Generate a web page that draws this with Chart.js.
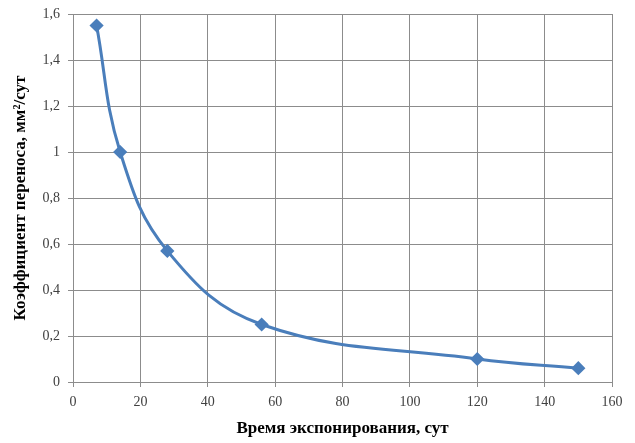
<html>
<head>
<meta charset="utf-8"/>
<title>Коэффициент переноса</title>
<script src="https://cdn.jsdelivr.net/npm/chart.js@4/dist/chart.umd.min.js"></script>
<style>
  body { margin: 0; background: #fff; }
  #wrap { width: 635px; height: 443px; }
</style>
</head>
<body>
<div id="wrap"><canvas id="myChart" width="635" height="443"></canvas></div>
<script>
// data
var days = [7, 14, 28, 56, 120, 150];
var coef = [1.55, 1.0, 0.57, 0.25, 0.10, 0.06];
var xTitle = 'Время экспонирования, сут';
var yTitle = 'Коэффициент переноса, мм²/сут';

var pts = [];
for (var i = 0; i < days.length; i++) {
    pts.push({x: days[i], y: coef[i]});
}

var serif = '"Liberation Serif", "Times New Roman", serif';
var ctx = document.getElementById('myChart');
var myChart = new Chart(ctx, {
    type: 'scatter',
    data: {
        datasets: [{
            data: pts,
            showLine: true,
            borderColor: '#4a7ebb',
            backgroundColor: '#4a7ebb',
            borderWidth: 3,
            tension: 0.4,
            pointStyle: 'rectRot',
            pointRadius: 5,
            pointHoverRadius: 5
        }]
    },
    options: {
        responsive: false,
        animation: false,
        layout: { padding: { top: 14, right: 23, left: 0, bottom: 0 } },
        plugins: { legend: { display: false }, tooltip: { enabled: false } },
        scales: {
            x: {
                type: 'linear',
                min: 0, max: 160,
                ticks: { stepSize: 20, color: '#404040', font: { family: serif, size: 14 }, padding: 7 },
                grid: { color: '#8c8c8c', tickLength: 5 },
                border: { color: '#8c8c8c' },
                title: { display: true, text: xTitle, color: '#000', font: { family: serif, size: 17, weight: 'bold' }, padding: { top: 4, bottom: 4 } },
                afterFit: function(s) { s.height = 61; s.paddingLeft = 0; s.paddingRight = 0; }
            },
            y: {
                min: 0, max: 1.6,
                ticks: {
                    stepSize: 0.2, color: '#404040', font: { family: serif, size: 14 }, padding: 8,
                    callback: function(v) { return (Math.round(v * 10) / 10).toString().replace('.', ','); }
                },
                grid: { color: '#8c8c8c', tickLength: 5 },
                border: { color: '#8c8c8c' },
                title: { display: true, text: yTitle, color: '#000', font: { family: serif, size: 17, weight: 'bold' }, padding: { top: 10, bottom: 8 } },
                afterFit: function(s) { s.width = 73; s.paddingTop = 0; s.paddingBottom = 0; }
            }
        }
    }
});
</script>
</body>
</html>
